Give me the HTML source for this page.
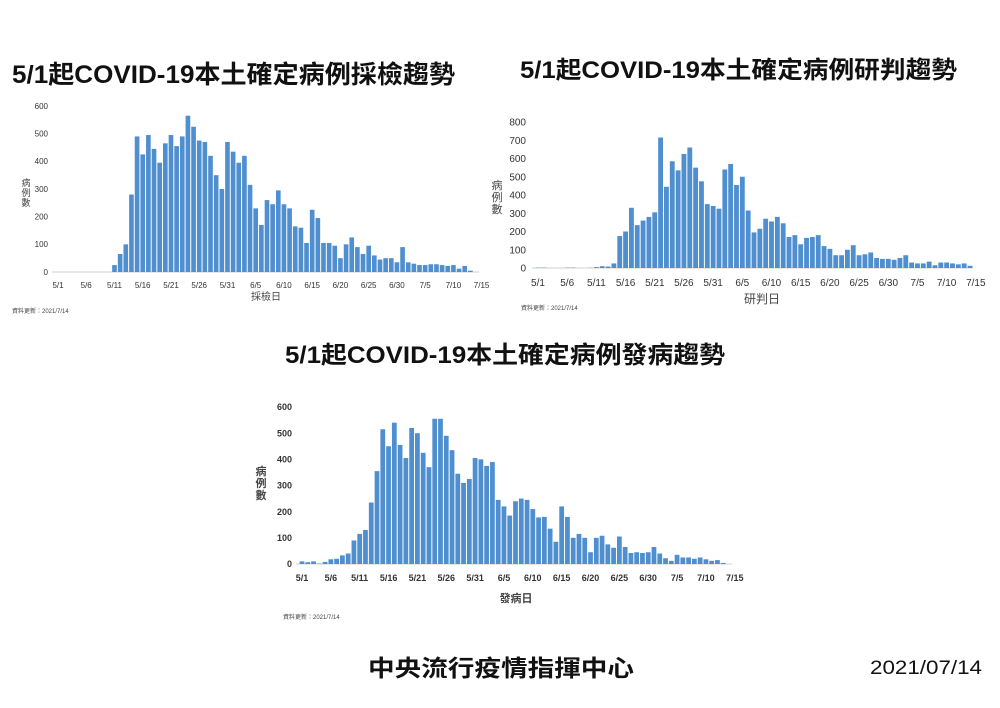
<!DOCTYPE html>
<html><head><meta charset="utf-8"><style>
body{margin:0;background:#fff;}
svg{display:block;font-family:"Liberation Sans","Noto Sans CJK TC",sans-serif;}
</style></head><body>
<svg id="s" width="1000" height="708" viewBox="0 0 1000 708" xmlns="http://www.w3.org/2000/svg">
<rect width="1000" height="708" fill="#fff"/>
<text x="12" y="83" font-size="25" font-weight="bold" textLength="443" lengthAdjust="spacingAndGlyphs" fill="#111">5/1起COVID-19本土確定病例採檢趨勢</text>
<text x="520" y="78" font-size="24" font-weight="bold" textLength="437" lengthAdjust="spacingAndGlyphs" fill="#111">5/1起COVID-19本土確定病例研判趨勢</text>
<text x="285" y="363" font-size="24" font-weight="bold" textLength="440" lengthAdjust="spacingAndGlyphs" fill="#111">5/1起COVID-19本土確定病例發病趨勢</text>
<text x="368" y="676" font-size="23" font-weight="bold" textLength="266" lengthAdjust="spacingAndGlyphs" fill="#111">中央流行疫情指揮中心</text>
<text x="870" y="674" font-size="19" textLength="112" lengthAdjust="spacingAndGlyphs" fill="#111">2021/07/14</text>
<g id="g"></g>
</svg>
<script>
var d1=[0,0,0,0,0,0,0,0,0,0,25,65,100,280,490,425,495,445,395,465,495,455,490,565,525,475,470,420,350,300,470,435,395,420,315,230,170,260,245,295,245,230,165,160,105,225,195,105,105,95,50,100,125,90,65,95,60,45,50,50,35,90,35,30,25,25,28,28,25,22,25,12,22,5,0];
var d2=[2,2,0,0,0,2,2,0,0,1,5,10,8,25,175,200,330,235,260,280,305,715,445,585,535,625,660,550,475,350,340,325,540,570,455,500,315,195,215,270,255,280,245,170,180,130,165,170,180,120,105,70,70,100,125,70,75,85,55,50,50,45,55,70,30,25,25,35,15,30,30,25,20,25,12];
var d3=[10,7,10,2,8,18,20,33,40,90,115,130,235,355,515,450,540,455,405,520,500,425,370,555,555,490,435,345,310,325,405,400,375,390,245,220,185,240,250,245,210,178,180,135,85,220,180,100,115,100,45,100,108,75,62,105,65,42,45,42,45,65,40,22,12,35,25,25,20,25,18,12,15,4,0];
var labs=["5/1","5/6","5/11","5/16","5/21","5/26","5/31","6/5","6/10","6/15","6/20","6/25","6/30","7/5","7/10","7/15"];
var h="";
function chart(d,x0,x1,y0,ytop,vmax,step,fs,bold,ylx,xlab,xlabX,xlabY,ylabX,ylabY,ylfs,noteX,noteY){
 var sp=(x1-x0)/74,k=(y0-ytop)/vmax,fw=bold?' font-weight="bold"':'';
 h+='<line x1="'+(x0-6)+'" y1="'+y0+'" x2="'+(x1+3)+'" y2="'+y0+'" stroke="#d0d0d0" stroke-width="1"/>';
 for(var i=0;i<75;i++){var v=d[i];if(v<=0)continue;var bh=v*k;h+='<rect x="'+(x0+i*sp-sp/2+0.5).toFixed(2)+'" y="'+(y0-bh).toFixed(2)+'" width="'+(sp-1).toFixed(2)+'" height="'+bh.toFixed(2)+'" fill="#4f8fd0"/>';}
 for(var v=0;v<=vmax;v+=step){h+='<text x="'+ylx+'" y="'+(y0-v*k+fs*0.35).toFixed(1)+'" font-size="'+fs+'" text-anchor="end" fill="#333"'+fw+'>'+v+'</text>';}
 for(var j=0;j<16;j++){h+='<text x="'+(x0+j*5*sp).toFixed(1)+'" y="'+(y0+fs+8)+'" font-size="'+fs+'" text-anchor="middle" fill="#333"'+fw+'>'+labs[j]+'</text>';}
 h+='<text x="'+xlabX+'" y="'+xlabY+'" font-size="'+(fs+2)+'" text-anchor="middle" fill="#444"'+fw+'>'+xlab+'</text>';
 var c=["病","例","數"];for(var m=0;m<3;m++)h+='<text x="'+ylabX+'" y="'+(ylabY+m*(ylfs+1))+'" font-size="'+ylfs+'" text-anchor="middle" fill="#444"'+fw+'>'+c[m]+'</text>';
 h+='<text x="'+noteX+'" y="'+noteY+'" font-size="6" fill="#444">資料更新：2021/7/14</text>';
}
chart(d1,58,476,272,106,600,100,8,false,48,"採檢日",266,300,26,186,9,12,313);
chart(d2,538,970,268,122,800,100,10,false,526,"研判日",762,303,497,189,11,521,310);
chart(d3,302,729,564,407,600,100,9,true,292,"發病日",516,602,261,475,11,283,619);
document.getElementById("g").innerHTML=h;
</script>
</body></html>
